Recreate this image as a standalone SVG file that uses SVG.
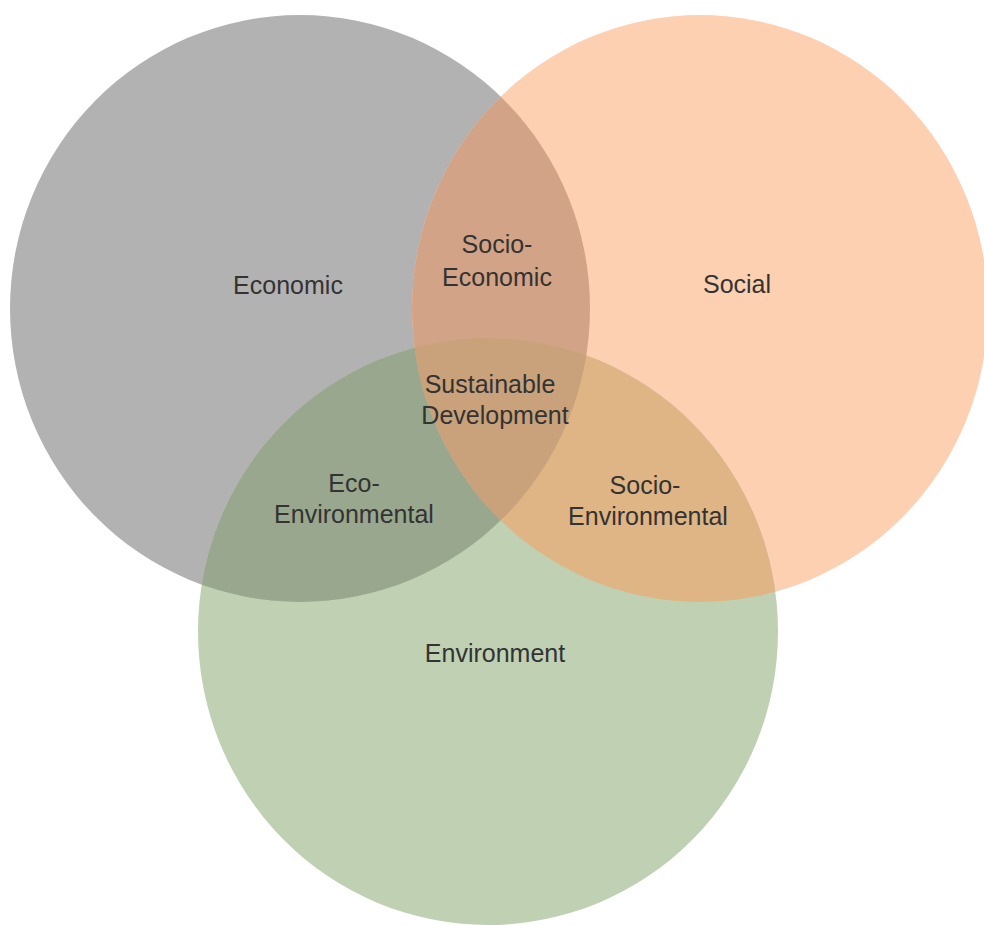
<svg xmlns="http://www.w3.org/2000/svg" width="984" height="925" viewBox="0 0 984 925">
<style>
text{font-family:"Liberation Sans",Arial,sans-serif;font-size:25px;fill:#333333;text-anchor:middle}
</style>
<defs>
<clipPath id="cEco"><ellipse cx="300" cy="308.5" rx="290" ry="293.5"/></clipPath>
<clipPath id="cSoc"><ellipse cx="700" cy="308.5" rx="288" ry="293.5"/></clipPath>
<clipPath id="cEnv"><ellipse cx="488" cy="631.5" rx="290" ry="293.5"/></clipPath>
</defs>
<rect width="984" height="925" fill="#ffffff"/>
<g id="economic">
<ellipse cx="300" cy="308.5" rx="290" ry="293.5" fill="#b3b2b3"/>
</g>
<g id="social">
<ellipse cx="700" cy="308.5" rx="288" ry="293.5" fill="#fdd0b2"/>
</g>
<g id="environment">
<ellipse cx="488" cy="631.5" rx="290" ry="293.5" fill="#bfd0b3"/>
</g>
<g id="socio-economic">
<g clip-path="url(#cEco)"><ellipse cx="700" cy="308.5" rx="288" ry="293.5" fill="#d2a386"/></g>
</g>
<g id="eco-environmental">
<g clip-path="url(#cEco)"><ellipse cx="488" cy="631.5" rx="290" ry="293.5" fill="#98a78d"/></g>
</g>
<g id="socio-environmental">
<g clip-path="url(#cSoc)"><ellipse cx="488" cy="631.5" rx="290" ry="293.5" fill="#dfb585"/></g>
</g>
<g id="sustainable-development">
<g clip-path="url(#cEco)"><g clip-path="url(#cSoc)"><ellipse cx="488" cy="631.5" rx="290" ry="293.5" fill="#c9a17a"/></g></g>
</g>
<g id="labels">
<text x="288" y="294">Economic</text>
<text x="497" y="253">Socio-</text>
<text x="497" y="286">Economic</text>
<text x="737" y="293">Social</text>
<text x="490" y="393">Sustainable</text>
<text x="495" y="424">Development</text>
<text x="354" y="492">Eco-</text>
<text x="354" y="523">Environmental</text>
<text x="645" y="494">Socio-</text>
<text x="648" y="525">Environmental</text>
<text x="495" y="662">Environment</text>
</g>
<g id="connectors"></g>
</svg>
